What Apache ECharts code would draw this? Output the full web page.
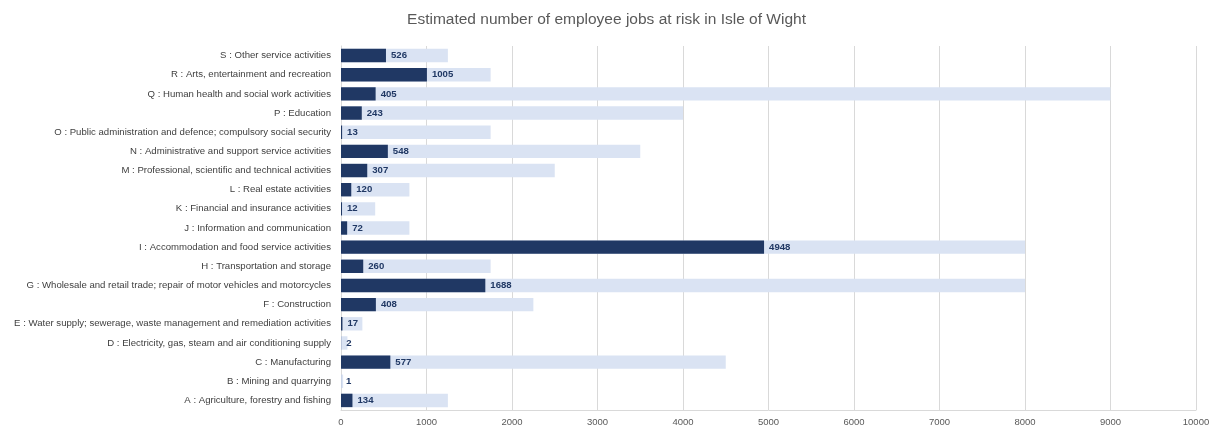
<!DOCTYPE html>
<html>
<head>
<meta charset="utf-8">
<script src="https://cdn.jsdelivr.net/npm/echarts@6/dist/echarts.min.js"></script>
<style>
  html, body { margin: 0; padding: 0; background: #fff; }
  #chart { width: 1213px; height: 426px; }
</style>
</head>
<body>
<div id="chart"></div>
<script>
// Industry sectors, bottom (A) to top (S)
const sectors = [
  'A : Agriculture, forestry and fishing',
  'B : Mining and quarrying',
  'C : Manufacturing',
  'D : Electricity, gas, steam and air conditioning supply',
  'E : Water supply; sewerage, waste management and remediation activities',
  'F : Construction',
  'G : Wholesale and retail trade; repair of motor vehicles and motorcycles',
  'H : Transportation and storage',
  'I : Accommodation and food service activities',
  'J : Information and communication',
  'K : Financial and insurance activities',
  'L : Real estate activities',
  'M : Professional, scientific and technical activities',
  'N : Administrative and support service activities',
  'O : Public administration and defence; compulsory social security',
  'P : Education',
  'Q : Human health and social work activities',
  'R : Arts, entertainment and recreation',
  'S : Other service activities'
];

// Total employee jobs per sector (background bars)
const totalJobs = [1250, 25, 4500, 75, 250, 2250, 8000, 1750, 8000, 800, 400, 800, 2500, 3500, 1750, 4000, 9000, 1750, 1250];

// Employee jobs at risk per sector (labelled bars)
const jobsAtRisk = [134, 1, 577, 2, 17, 408, 1688, 260, 4948, 72, 12, 120, 307, 548, 13, 243, 405, 1005, 526];

const xTicks = { min: 0, max: 10000, step: 1000 };

const font = "'Liberation Sans Narrow', 'Liberation Sans', sans-serif";

const chart = echarts.init(document.getElementById('chart'), null, { renderer: 'canvas' });

chart.setOption({
  animation: false,
  backgroundColor: '#ffffff',
  textStyle: { fontFamily: font },
  title: {
    text: 'Estimated number of employee jobs at risk in Isle of Wight',
    left: 'center',
    top: 7,
    textStyle: { fontFamily: font, fontSize: 15.5, fontWeight: 'normal', color: '#595959' }
  },
  grid: {
    left: 341, right: 17, top: 46, bottom: 16,
    containLabel: false,
    outerBoundsMode: 'none'
  },
  xAxis: {
    type: 'value',
    min: xTicks.min,
    max: xTicks.max,
    interval: xTicks.step,
    axisLine: { show: true, lineStyle: { color: '#d9d9d9' } },
    axisTick: { show: false },
    splitLine: { show: true, lineStyle: { color: '#d9d9d9', width: 1 } },
    axisLabel: {
      fontFamily: font, fontSize: 9.5, color: '#595959', margin: 7,
      formatter: v => String(v)
    }
  },
  yAxis: {
    type: 'category',
    data: sectors,
    axisLine: { show: true, lineStyle: { color: '#d9d9d9' } },
    axisTick: { show: false },
    axisLabel: { fontFamily: font, fontSize: 9.6, color: '#404040', margin: 10 }
  },
  series: [
    {
      name: 'Total',
      type: 'bar',
      data: totalJobs,
      barCategoryGap: '30%',
      itemStyle: { color: '#dae3f3' },
      silent: true,
      z: 1
    },
    {
      name: 'At risk',
      type: 'bar',
      data: jobsAtRisk,
      barGap: '-100%',
      itemStyle: { color: '#203864' },
      label: {
        show: true,
        position: 'right',
        distance: 5,
        fontFamily: font,
        fontSize: 9.6,
        fontWeight: 'bold',
        color: '#203864'
      },
      z: 2
    }
  ]
});
</script>
</body>
</html>
